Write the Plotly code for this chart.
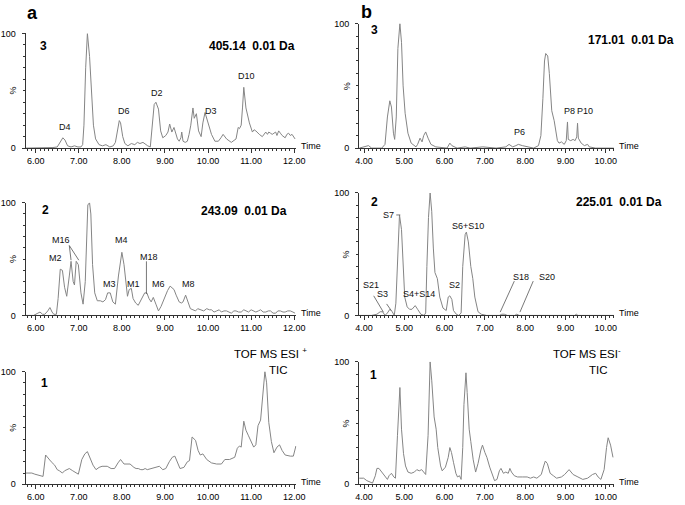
import plotly.graph_objects as go

# ---------------- data (time in min, relative intensity in %) ----------------
a3 = [(5.76,0),(6.00,0),(6.20,0),(6.40,0.5),(6.50,1),(6.56,5),(6.63,9),(6.68,7),(6.74,2),(6.82,1),
      (6.90,2),(6.98,1),(7.05,1),(7.09,3),(7.12,20),(7.16,70),(7.20,100),(7.25,80),(7.29,55),(7.34,20),
      (7.39,8),(7.47,3),(7.55,2),(7.63,3),(7.72,1),(7.80,2),(7.85,5),(7.89,15),(7.94,24),(7.97,22),
      (8.02,10),(8.07,4),(8.14,2),(8.22,4),(8.30,3),(8.36,5),(8.42,4),(8.49,5),(8.55,3),(8.60,2),
      (8.66,1),(8.70,20),(8.75,38),(8.79,40),(8.85,34),(8.90,15),(8.95,9),(9.02,11),(9.07,14),(9.11,21),
      (9.16,14),(9.21,18),(9.25,12),(9.29,8),(9.33,6),(9.37,9),(9.39,14),(9.42,6),(9.47,5),(9.52,6),
      (9.56,12),(9.60,20),(9.65,35),(9.68,26),(9.73,30),(9.78,15),(9.84,10),(9.88,22),(9.93,31),(10.01,20),
      (10.08,12),(10.16,6),(10.24,6),(10.30,9),(10.35,12),(10.43,8),(10.54,5),(10.65,8),(10.70,18),(10.73,17),
      (10.77,20),(10.80,35),(10.83,53),(10.88,35),(10.96,22),(11.03,14),(11.07,16),(11.11,15),(11.15,13),(11.19,12),
      (11.26,10),(11.30,12),(11.34,14),(11.38,12),(11.41,14),(11.45,13),(11.49,12),(11.53,13),(11.57,14),(11.60,11),
      (11.64,15),(11.68,13),(11.72,11),(11.79,9),(11.83,12),(11.87,13),(11.91,11),(11.95,12),(12.02,8)]

a2 = [(5.76,0),(5.95,0),(6.05,2),(6.10,3),(6.16,1),(6.21,1),(6.28,4),(6.33,7),(6.38,3),(6.42,1),
      (6.48,1),(6.52,15),(6.57,41),(6.62,40),(6.67,25),(6.72,17),(6.78,35),(6.82,48),(6.87,30),(6.90,27),
      (6.94,48),(6.99,45),(7.05,20),(7.10,10),(7.15,30),(7.18,75),(7.21,98),(7.25,100),(7.28,90),(7.32,45),
      (7.37,20),(7.43,13),(7.50,13),(7.56,12),(7.62,14),(7.67,20),(7.73,20),(7.79,12),(7.85,10),(7.92,35),
      (8.00,56),(8.05,45),(8.10,30),(8.13,17),(8.17,23),(8.22,24),(8.26,15),(8.32,11),(8.38,9),(8.45,14),
      (8.53,20),(8.58,20),(8.63,15),(8.68,12),(8.73,16),(8.79,10),(8.85,4),(8.91,8),(8.98,15),(9.06,22),
      (9.12,26),(9.17,24),(9.21,23),(9.26,18),(9.33,12),(9.38,11),(9.42,12),(9.48,18),(9.53,12),(9.59,6),
      (9.65,5),(9.71,4),(9.76,6),(9.82,5),(9.90,4),(9.97,6),(10.03,5),(10.08,5),(10.14,3),(10.20,4),
      (10.26,5),(10.31,3),(10.37,4),(10.43,4),(10.49,3),(10.54,2),(10.60,4),(10.65,4),(10.71,3),(10.77,3),
      (10.83,5),(10.88,4),(10.94,3),(11.00,5),(11.05,4),(11.11,3),(11.17,4),(11.22,5),(11.28,3),(11.34,3),
      (11.40,4),(11.45,4),(11.51,2),(11.57,2),(11.62,4),(11.68,4),(11.74,3),(11.79,3),(11.85,4),(11.91,4),
      (11.97,3),(12.02,2)]

a1 = [(5.76,10),(5.84,10),(5.91,10),(5.98,9),(6.06,8),(6.10,8),(6.14,7),(6.17,7),(6.23,26),(6.29,23),
      (6.36,20),(6.44,17),(6.50,13),(6.55,12),(6.62,10),(6.67,12),(6.72,13),(6.78,14),(6.86,12),(6.93,10),
      (6.99,9),(7.07,22),(7.14,27),(7.20,29),(7.26,24),(7.33,17),(7.40,13),(7.47,15),(7.54,16),(7.60,16),
      (7.66,16),(7.75,14),(7.83,14),(7.91,19),(7.97,22),(8.05,18),(8.12,18),(8.19,18),(8.28,15),(8.33,14),
      (8.38,14),(8.44,13),(8.49,13),(8.54,14),(8.59,13),(8.68,14),(8.74,15),(8.79,15),(8.87,16),(8.95,13),
      (9.02,14),(9.10,20),(9.17,24),(9.23,25),(9.29,20),(9.35,14),(9.44,15),(9.52,20),(9.57,21),(9.63,42),
      (9.71,39),(9.77,30),(9.82,26),(9.88,27),(9.97,22),(10.08,19),(10.20,18),(10.31,18),(10.39,22),(10.50,22),
      (10.62,24),(10.68,32),(10.73,34),(10.77,33),(10.83,56),(10.88,48),(10.94,43),(11.00,38),(11.06,33),(11.11,35),
      (11.16,52),(11.22,57),(11.27,80),(11.32,100),(11.36,90),(11.41,55),(11.47,38),(11.53,28),(11.60,33),(11.66,35),
      (11.72,30),(11.79,26),(11.91,25),(11.98,25),(12.04,34)]

b3 = [(3.88,0),(4.03,1),(4.11,2),(4.19,0),(4.44,0),(4.52,3),(4.58,25),(4.64,38),(4.68,33),(4.73,12),
      (4.76,7),(4.80,25),(4.84,80),(4.89,100),(4.93,85),(4.97,50),(5.02,28),(5.09,12),(5.17,4),(5.29,1),
      (5.33,3),(5.39,8),(5.44,5),(5.48,10),(5.53,13),(5.59,8),(5.66,3),(5.78,1),(6.06,0),(6.13,4),
      (6.18,2),(6.31,0),(6.51,1),(6.63,0),(6.95,1),(7.28,0),(7.52,1),(7.60,3),(7.69,1),(7.77,2),
      (7.83,3),(7.93,2),(8.05,1),(8.21,0),(8.33,2),(8.39,10),(8.44,40),(8.48,70),(8.51,76),(8.56,74),
      (8.60,60),(8.66,30),(8.72,22),(8.76,14),(8.80,6),(8.84,4),(8.90,5),(8.97,3),(9.02,6),(9.05,21),
      (9.07,7),(9.13,6),(9.19,7),(9.24,6),(9.28,9),(9.30,20),(9.32,8),(9.39,4),(9.47,2),(9.55,3),
      (9.59,1),(9.75,0),(10.20,0)]

b2 = [(3.88,0),(4.19,0),(4.32,1),(4.40,3),(4.46,3),(4.52,0),(4.58,2),(4.64,5),(4.70,3),(4.75,0),
      (4.79,10),(4.84,60),(4.88,82),(4.93,70),(4.97,35),(5.01,15),(5.07,7),(5.13,5),(5.19,5),(5.27,8),
      (5.33,5),(5.41,1),(5.49,0),(5.53,2),(5.56,40),(5.60,80),(5.64,100),(5.68,85),(5.72,55),(5.76,35),
      (5.82,30),(5.88,15),(5.96,6),(6.04,4),(6.09,15),(6.13,16),(6.18,13),(6.22,4),(6.29,1),(6.35,0),
      (6.41,2),(6.45,40),(6.51,66),(6.54,68),(6.59,60),(6.65,40),(6.70,30),(6.75,15),(6.83,3),(6.91,1),
      (7.04,0),(7.36,0),(7.42,1),(7.48,1),(7.56,0),(7.74,0),(7.79,1),(7.85,0),(9.23,0),(9.27,1),
      (9.31,0),(10.20,0)]

b1 = [(3.88,5),(3.99,5),(4.07,3),(4.15,2),(4.21,1),(4.28,7),(4.32,13),(4.37,13),(4.44,10),(4.52,7),
      (4.58,4),(4.62,7),(4.68,9),(4.74,6),(4.78,5),(4.83,40),(4.89,79),(4.93,45),(4.98,25),(5.03,15),
      (5.09,10),(5.17,9),(5.25,10),(5.31,12),(5.37,11),(5.43,12),(5.48,10),(5.53,8),(5.59,40),(5.64,100),
      (5.68,85),(5.74,55),(5.79,45),(5.83,30),(5.90,15),(5.94,11),(6.02,14),(6.09,22),(6.13,30),(6.17,26),
      (6.22,18),(6.28,9),(6.32,6),(6.37,7),(6.41,4),(6.45,30),(6.48,65),(6.53,91),(6.56,75),(6.61,45),
      (6.65,35),(6.71,20),(6.77,10),(6.83,17),(6.90,28),(6.94,32),(7.00,26),(7.05,22),(7.12,14),(7.18,9),
      (7.24,3),(7.30,4),(7.36,11),(7.40,13),(7.46,9),(7.52,10),(7.58,9),(7.62,13),(7.66,10),(7.73,7),
      (7.81,6),(7.93,6),(8.05,6),(8.13,5),(8.21,6),(8.29,5),(8.40,8),(8.46,15),(8.50,19),(8.55,17),
      (8.62,9),(8.70,7),(8.78,5),(8.90,6),(8.98,8),(9.09,12),(9.19,8),(9.31,6),(9.43,4),(9.55,5),
      (9.67,8),(9.75,9),(9.81,6),(9.88,4),(9.96,12),(10.02,30),(10.06,38),(10.12,32),(10.18,22)]

# peak labels: (text, time, %)
a3_labels = [("D5",7.18,109),("D4",6.68,18),("D6",8.04,32.5),("D2",8.82,48),("D3",10.07,32.5),("D10",10.89,63)]
a2_labels = [("D5",7.29,106),("M16",6.59,67),("M2",6.45,51),("M4",8.00,67),("M18",8.64,52),
             ("M3",7.72,28),("M1",8.27,28),("M6",8.84,28),("M8",9.55,28)]
b3_labels = [("P7+P9",8.75,103),("P8",9.09,30),("P10",9.48,30),("P6",7.87,12.6)]
b2_labels = [("S1+S5",5.66,103),("S6+S10",6.58,73),("S2",6.24,24.6),("S21",4.17,24.6),
             ("S3",4.46,17.4),("S4+S14",5.36,17.4),("S18",7.90,31),("S20",8.53,31)]
# leader lines: (t0, y0, t1, y1)
a2_leaders = [(6.78,62,6.82,49),(6.78,62,7.00,49),(8.57,48,8.57,19)]
b2_leaders = [(4.24,16,4.48,2.7),(4.56,9.4,4.68,3.8),(7.73,28,7.38,2.7),(8.20,28,7.87,2.7),(4.80,82,4.90,82)]

W, H = 685, 505
def px(x): return x / W
def py(y): return 1 - y / H

FONT = "Arial, Liberation Sans, sans-serif"
LINE = "#858585"
AX = "#333333"

panels = [
    # name, data, xdomain(px), ydomain(px top,bottom), xrange
    ("a3", a3, (22, 298), (29, 146), (5.765, 12.05)),
    ("a2", a2, (22, 298), (201.7, 316.7), (5.765, 12.05)),
    ("a1", a1, (22, 298), (374, 489), (5.765, 12.05)),
    ("b3", b3, (362, 622), (19, 146), (3.878, 10.21)),
    ("b2", b2, (362, 622), (191.7, 316.7), (3.878, 10.21)),
    ("b1", b1, (362, 622), (364, 489), (3.878, 10.21)),
]

fig = go.Figure()
layout = dict(width=W, height=H, margin=dict(l=0, r=0, t=0, b=0), autosize=False,
              paper_bgcolor="white", plot_bgcolor="white", showlegend=False,
              font=dict(family=FONT, size=9, color="black"))
annotations = []
shapes = []
axref = {}
for i, (name, data, xd, yd, xr) in enumerate(panels, start=1):
    xs = "" if i == 1 else str(i)
    t = [p[0] for p in data]
    v = [p[1] for p in data]
    fig.add_trace(go.Scatter(x=t, y=v, mode="lines", xaxis="x" + xs, yaxis="y" + xs,
                             line=dict(color=LINE, width=1), cliponaxis=False, hoverinfo="skip"))
    layout["xaxis" + xs] = dict(domain=[px(xd[0]), px(xd[1])], range=list(xr), anchor="y" + xs,
                                showline=True, linecolor=AX, linewidth=1, showgrid=False, zeroline=False,
                                ticks="outside", ticklen=4, tickcolor=AX, dtick=1, tick0=0,
                                tickformat=".2f", tickfont=dict(size=9, family=FONT),
                                minor=dict(dtick=0.1, tick0=0, ticklen=2, tickcolor=AX, ticks="outside"))
    layout["yaxis" + xs] = dict(domain=[py(yd[1]), py(yd[0])], range=[0, 100], anchor="x" + xs,
                                showline=True, linecolor=AX, linewidth=1, showgrid=False, zeroline=False,
                                ticks="outside", ticklen=3, tickcolor=AX, tickvals=[0, 100],
                                ticktext=["0", "100"], tickfont=dict(size=9, family=FONT),
                                ticklabelstandoff=4,
                                minor=dict(dtick=10, tick0=0, ticklen=2, tickcolor=AX, ticks="outside"))
    axref[name] = ("x" + xs, "y" + xs)
    annotations.append(dict(text="%", xref="paper", yref="y" + xs, x=px(xd[0] - 13), y=50,
                            textangle=-90, showarrow=False, font=dict(size=9, family=FONT),
                            xanchor="center", yanchor="middle"))
    annotations.append(dict(text="Time", xref="paper", yref="y" + xs, x=px(xd[1] + 3), y=2,
                            showarrow=False, font=dict(size=9, family=FONT),
                            xanchor="left", yanchor="middle"))

def add_labels(name, labels):
    xa, ya = axref[name]
    for txt, tt, yy in labels:
        annotations.append(dict(text=txt, xref=xa, yref=ya, x=tt, y=yy, showarrow=False,
                                font=dict(size=9, family=FONT, color="#111"),
                                xanchor="center", yanchor="middle"))

add_labels("a3", a3_labels)
add_labels("a2", a2_labels)
add_labels("b3", b3_labels)
add_labels("b2", b2_labels)
annotations.append(dict(text="S7", xref=axref["b2"][0], yref=axref["b2"][1], x=4.80, y=82,
                        showarrow=False, font=dict(size=9, family=FONT, color="#111"),
                        xanchor="right", yanchor="middle"))

def add_leaders(name, leaders):
    xa, ya = axref[name]
    for t0, y0, t1, y1 in leaders:
        shapes.append(dict(type="line", xref=xa, yref=ya, x0=t0, y0=y0, x1=t1, y1=y1,
                           line=dict(color="#555", width=0.8)))

add_leaders("a2", a2_leaders)
add_leaders("b2", b2_leaders)

def ptext(text, x, y, size, bold=False, xanchor="center", yanchor="middle"):
    annotations.append(dict(text=("<b>%s</b>" % text) if bold else text, xref="paper", yref="paper",
                            x=px(x), y=py(y), showarrow=False, xanchor=xanchor, yanchor=yanchor,
                            font=dict(size=size, family=FONT, color="black")))

ptext("a", 29, 8, 18, True)
ptext("b", 370, 7, 18, True)
ptext("3", 40, 42, 12, True)
ptext("2", 42, 209, 12, True)
ptext("1", 41, 386, 12, True)
ptext("3", 378, 26, 12, True)
ptext("2", 378, 201, 12, True)
ptext("1", 377, 377, 12, True)
NB = "\u00a0"
ptext("405.14" + NB * 2 + "0.01 Da", 253, 42, 12, True)
ptext("243.09" + NB * 2 + "0.01 Da", 245, 210, 12, True)
ptext("171.01" + NB * 2 + "0.01 Da", 685, 36, 12, True, xanchor="right")
ptext("225.01" + NB * 2 + "0.01 Da", 673, 201, 12, True, xanchor="right")
ptext("TOF MS ESI <sup>+</sup>", 232, 355, 11.5, False, xanchor="left")
ptext("TIC", 280, 372, 11.5)
ptext("TOF MS ESI<sup>-</sup>", 558, 355, 11.5, False, xanchor="left")
ptext("TIC", 606, 372, 11.5)

layout["annotations"] = annotations
layout["shapes"] = shapes
fig.update_layout(**layout)
fig.write_html("out.html", config={"displayModeBar": False},
               post_script="document.body.style.margin='0px';document.body.style.overflow='hidden';")
